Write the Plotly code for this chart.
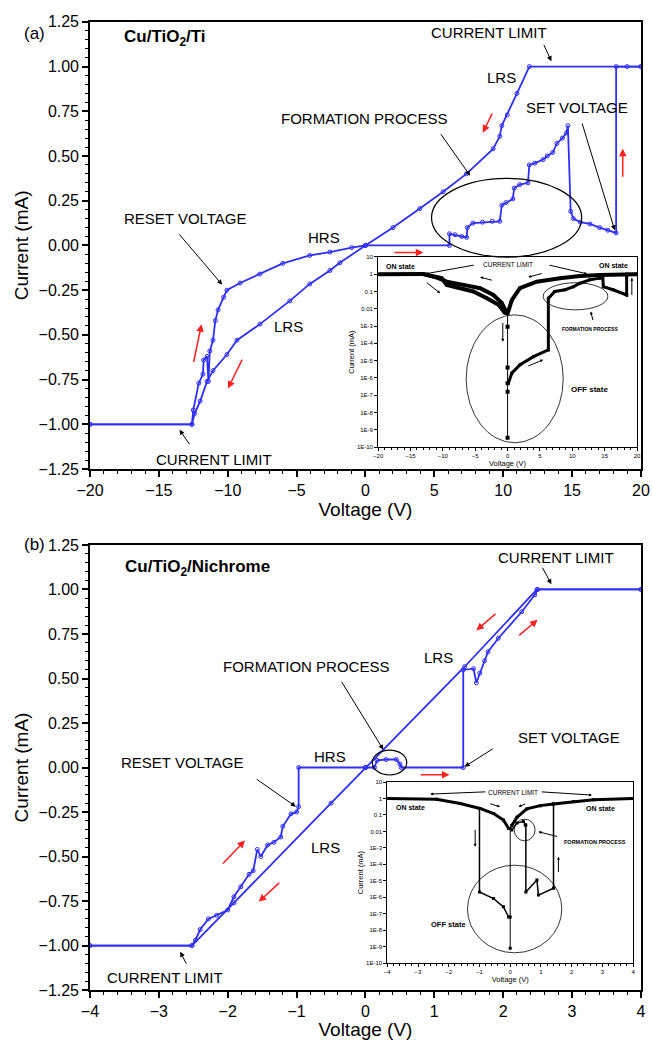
import plotly.graph_objects as go

FONT = "Arial, Liberation Sans, sans-serif"
BLUE = "#2e2eff"
RED = "#ff2020"

# ---------------- Panel (a): Cu/TiO2/Ti (linear I-V) ----------------
a_fwd_v = [0, 6.1, 6.1, 6.5, 7.0, 7.35, 7.4, 7.8, 8.5, 9.2, 9.75, 9.9, 10.2, 10.7, 10.8, 11.2, 11.8,
           11.9, 12.3, 12.9, 13.2, 13.6, 13.9, 14.3, 14.6, 14.7, 14.9, 15.1, 15.6, 16.3, 17.0, 17.6,
           18.2, 18.2, 19.0, 20.0]
a_fwd_i = [0, 0, 0.065, 0.06, 0.05, 0.045, 0.10, 0.125, 0.13, 0.135, 0.135, 0.225, 0.24, 0.26, 0.32,
           0.34, 0.35, 0.45, 0.46, 0.48, 0.50, 0.52, 0.57, 0.60, 0.63, 0.67, 0.19, 0.15, 0.13, 0.12,
           0.10, 0.085, 0.07, 1.0, 1.0, 1.0]
a_lrs_v = [20, 11.9, 11.0, 10.3, 9.9, 9.75, 9.27, 7.33, 5.64, 3.95, 2.0, 0, -1.86, -2.58, -4.04,
           -5.49, -7.66, -9.33, -10.06, -11.07, -11.5, -12.0, -12.4, -12.6, -20]
a_lrs_i = [1.0, 1.0, 0.85, 0.73, 0.67, 0.61, 0.54, 0.40, 0.30, 0.206, 0.10, 0, -0.097, -0.14, -0.215,
           -0.31, -0.44, -0.53, -0.61, -0.70, -0.76, -0.87, -0.94, -1.0, -1.0]
a_rst_v = [-20, -12.6, -12.5, -12.1, -11.8, -11.75, -11.5, -11.4, -11.3, -11.07, -10.9, -10.7, -10.3,
           -10.06, -9.1, -7.66, -6.0, -4.04, -2.58, -1.0, 0]
a_rst_i = [-1.0, -1.0, -0.92, -0.77, -0.72, -0.64, -0.62, -0.76, -0.59, -0.53, -0.42, -0.36, -0.29,
           -0.25, -0.21, -0.16, -0.10, -0.056, -0.037, -0.012, 0]

# Inset (a): |I| on log scale
ia_on_up_v = [-20, -13.0, -10.7, -9.4, -6.8, -4.25, -2.2, -0.9, -0.23]
ia_on_up_i = [1.0, 1.04, 0.59, 0.37, 0.24, 0.155, 0.063, 0.022, 0.0069]
ia_on_lo_v = [-13.0, -10.2, -9.4, -7.85, -5.3, -3.2, -1.4, -0.4]
ia_on_lo_i = [1.0, 0.59, 0.24, 0.18, 0.10, 0.041, 0.017, 0.0056]
ia_on_rt_v = [0.1, 0.65, 1.9, 4.5, 8.1, 11.2, 14.3, 20]
ia_on_rt_i = [0.0069, 0.032, 0.155, 0.37, 0.59, 0.79, 0.91, 1.0]
ia_ctr_v = [0, 0, 0, 0, 0, 0]
ia_ctr_i = [0.0058, 9.3e-4, 4e-6, 5e-7, 1.6e-7, 3.5e-10]
ia_off_v = [0.12, 0.65, 1.93, 4.0, 6.3, 6.3, 7.3, 8.9, 10.2, 11.2, 12.7, 14.3, 14.7, 14.8, 16.3, 18.4,
            18.4, 20]
ia_off_i = [5e-7, 1.9e-6, 5.8e-6, 1.7e-5, 4.2e-5, 0.04, 0.10, 0.126, 0.19, 0.30, 0.47, 0.59, 0.72,
            0.19, 0.126, 0.063, 1.0, 1.0]

# ---------------- Panel (b): Cu/TiO2/Nichrome ----------------
b_fwd_v = [0, 0.13, 0.17, 0.3, 0.45, 0.5, 0.52, 1.42, 1.42, 1.57, 1.61, 1.66, 1.73, 1.78, 1.93, 2.27,
           2.46, 2.5, 4.0]
b_fwd_i = [0, 0.0, 0.04, 0.045, 0.045, 0.02, 0.0, 0.0, 0.548, 0.555, 0.476, 0.53, 0.60, 0.65, 0.726,
           0.875, 0.97, 1.0, 1.0]
b_lrs_v = [4, 2.49, 1.44, 0, -0.5, -1.91, -2.52, -4]
b_lrs_i = [1.0, 1.0, 0.566, 0, -0.2, -0.76, -1.0, -1.0]
b_rst_v = [-4, -2.52, -2.47, -2.4, -2.28, -2.16, -2.0, -1.91, -1.81, -1.69, -1.63, -1.57, -1.52, -1.42,
           -1.33, -1.23, -1.2, -1.08, -1.0, -0.97, -0.97, 0]
b_rst_i = [-1, -1, -0.97, -0.91, -0.85, -0.83, -0.80, -0.726, -0.67, -0.60, -0.58, -0.46, -0.50,
           -0.435, -0.42, -0.39, -0.33, -0.26, -0.25, -0.22, 0, 0]

# Inset (b)
ib_on_lf_v = [-4, -2.4, -1.63, -0.98, -0.54, -0.22, -0.05]
ib_on_lf_i = [1.0, 0.91, 0.5, 0.25, 0.123, 0.049, 0.015]
ib_rst_v = [-1.0, -1.0, -0.54, -0.22, -0.05]
ib_rst_i = [0.25, 2.1e-6, 8.3e-7, 2.6e-7, 6.3e-8]
ib_ctr_v = [0, 0, 0]
ib_ctr_i = [0.015, 6.3e-8, 7.9e-10]
ib_on_rt_v = [0.05, 0.22, 0.54, 0.98, 1.41, 2.06, 2.71, 4.0]
ib_on_rt_i = [0.023, 0.072, 0.234, 0.37, 0.47, 0.65, 0.85, 1.0]
ib_frm_v = [0.05, 0.22, 0.43, 0.49, 0.51, 0.51, 0.87, 0.92, 1.41, 1.41]
ib_frm_i = [0.0123, 0.032, 0.04, 0.025, 0.025, 2.1e-6, 1.1e-5, 1.35e-6, 3.5e-6, 0.47]

log_tickvals = [10, 1, 0.1, 0.01, 1e-3, 1e-4, 1e-5, 1e-6, 1e-7, 1e-8, 1e-9, 1e-10]
log_ticktext = ["10", "1", "0.1", "0.01", "1E-3", "1E-4", "1E-5", "1E-6", "1E-7", "1E-8", "1E-9", "1E-10"]

fig = go.Figure()


def main_trace(x, y, xa, ya):
    fig.add_trace(go.Scatter(
        x=x, y=y, xaxis=xa, yaxis=ya, mode="lines+markers",
        line=dict(color=BLUE, width=1.8),
        marker=dict(symbol="circle-open", size=4, color=BLUE, line=dict(width=1, color=BLUE)),
        showlegend=False, hoverinfo="skip"))


def inset_trace(x, y, xa, ya, width=3.5, msize=3):
    fig.add_trace(go.Scatter(
        x=x, y=y, xaxis=xa, yaxis=ya, mode="lines+markers",
        line=dict(color="black", width=width),
        marker=dict(symbol="square", size=msize, color="black"),
        showlegend=False, hoverinfo="skip"))


main_trace(a_fwd_v, a_fwd_i, "x", "y")
main_trace(a_lrs_v, a_lrs_i, "x", "y")
main_trace(a_rst_v, a_rst_i, "x", "y")
main_trace(b_fwd_v, b_fwd_i, "x2", "y2")
main_trace(b_lrs_v, b_lrs_i, "x2", "y2")
main_trace(b_rst_v, b_rst_i, "x2", "y2")

inset_trace(ia_on_up_v, ia_on_up_i, "x3", "y3", 4)
inset_trace(ia_on_lo_v, ia_on_lo_i, "x3", "y3", 4)
inset_trace(ia_on_rt_v, ia_on_rt_i, "x3", "y3", 4)
inset_trace(ia_ctr_v, ia_ctr_i, "x3", "y3", 1, 4)
inset_trace(ia_off_v, ia_off_i, "x3", "y3", 3)

inset_trace(ib_on_lf_v, ib_on_lf_i, "x4", "y4", 3)
inset_trace(ib_rst_v, ib_rst_i, "x4", "y4", 1.5)
inset_trace(ib_ctr_v, ib_ctr_i, "x4", "y4", 1, 3)
inset_trace(ib_on_rt_v, ib_on_rt_i, "x4", "y4", 3)
inset_trace(ib_frm_v, ib_frm_i, "x4", "y4", 1.5)

ann = []


def txt(x, y, s, xr, yr, size=15, **kw):
    d = dict(x=x, y=y, xref=xr, yref=yr, text=s, showarrow=False,
             font=dict(family=FONT, size=size, color="black"))
    d.update(kw)
    ann.append(d)


def arr(x0, y0, x1, y1, xr, yr, color="black", width=1.0, head=2, size=1.0):
    ann.append(dict(x=x1, y=y1, ax=x0, ay=y0, xref=xr, yref=yr, axref=xr, ayref=yr, text="",
                    showarrow=True, arrowhead=head, arrowsize=size, arrowwidth=width,
                    arrowcolor=color))


# panel (a) texts
txt(8.96, 1.188, "CURRENT LIMIT", "x", "y")
txt(9.9, 0.94, "LRS", "x", "y")
txt(15.34, 0.77, "SET VOLTAGE", "x", "y")
txt(-0.12, 0.71, "FORMATION PROCESS", "x", "y")
txt(-3.0, 0.045, "HRS", "x", "y")
txt(-13.1, 0.15, "RESET VOLTAGE", "x", "y")
txt(-5.56, -0.454, "LRS", "x", "y")
txt(-11.0, -1.194, "CURRENT LIMIT", "x", "y")
txt(-17.7, 1.16, "<b>Cu/TiO<sub>2</sub>/Ti</b>", "x", "y", size=17, xanchor="left")
arr(12.9, 1.13, 13.5, 1.03, "x", "y")
arr(15.7, 0.69, 18.1, 0.085, "x", "y")
arr(5.4, 0.63, 7.6, 0.39, "x", "y")
arr(-13.6, 0.07, -10.4, -0.22, "x", "y")
arr(-12.7, -1.12, -13.5, -1.03, "x", "y")
arr(9.25, 0.745, 8.52, 0.63, "x", "y", RED, 1.5)
arr(18.68, 0.375, 18.68, 0.54, "x", "y", RED, 1.5)
arr(2.0, -0.04, 4.2, -0.04, "x", "y", RED, 1.5)
arr(-12.5, -0.66, -11.9, -0.44, "x", "y", RED, 1.5)
arr(-8.9, -0.63, -9.98, -0.80, "x", "y", RED, 1.5)

# panel (b) texts
txt(2.76, 1.177, "CURRENT LIMIT", "x2", "y2")
txt(1.06, 0.62, "LRS", "x2", "y2")
txt(-0.87, 0.565, "FORMATION PROCESS", "x2", "y2")
txt(2.95, 0.166, "SET VOLTAGE", "x2", "y2")
txt(-0.52, 0.06, "HRS", "x2", "y2")
txt(-2.65, 0.03, "RESET VOLTAGE", "x2", "y2")
txt(-0.58, -0.45, "LRS", "x2", "y2")
txt(-2.91, -1.18, "CURRENT LIMIT", "x2", "y2")
txt(-3.52, 1.12, "<b>Cu/TiO<sub>2</sub>/Nichrome</b>", "x2", "y2", size=17, xanchor="left")
arr(2.56, 1.13, 2.7, 1.03, "x2", "y2")
arr(-0.36, 0.49, 0.26, 0.1, "x2", "y2")
arr(1.87, 0.11, 1.44, 0.005, "x2", "y2")
arr(-1.6, -0.06, -1.01, -0.22, "x2", "y2")
arr(-2.59, -1.11, -2.69, -1.035, "x2", "y2")
arr(1.91, 0.87, 1.61, 0.77, "x2", "y2", RED, 1.5)
arr(2.21, 0.735, 2.5, 0.83, "x2", "y2", RED, 1.5)
arr(0.78, -0.04, 1.22, -0.04, "x2", "y2", RED, 1.5)
arr(-2.09, -0.548, -1.75, -0.41, "x2", "y2", RED, 1.5)
arr(-1.23, -0.64, -1.55, -0.754, "x2", "y2", RED, 1.5)

# inset (a) texts (y in log10 units)
txt(-16.5, 0.42, "<b>ON state</b>", "x3", "y3", size=7)
txt(16.3, 0.48, "<b>ON state</b>", "x3", "y3", size=7)
txt(0, 0.54, "CURRENT LIMIT", "x3", "y3", size=6.5)
txt(12.7, -3.16, "<b>FORMATION PROCESS</b>", "x3", "y3", size=5)
txt(12.7, -6.69, "<b>OFF state</b>", "x3", "y3", size=8)
arr(-5.0, 0.54, -12.7, 0.02, "x3", "y3", head=2, size=0.6)
arr(6.25, 0.54, 12.3, 0.02, "x3", "y3", head=2, size=0.6)
arr(-12.7, -0.43, -10.4, -1.1, "x3", "y3", head=2, size=0.6)
arr(-2.2, -0.37, -4.25, -0.17, "x3", "y3", head=2, size=0.6)
arr(5.5, 0.06, 3.2, -0.17, "x3", "y3", head=2, size=0.6)
arr(19.2, -1.29, 19.2, -0.2, "x3", "y3", head=2, size=0.6)
arr(-0.74, -2.74, -0.74, -3.9, "x3", "y3", head=2, size=0.6)
arr(2.96, -5.34, 5.5, -4.95, "x3", "y3", head=2, size=0.6)
arr(13.25, -2.74, 12.85, -2.16, "x3", "y3", head=2, size=0.6)

# inset (b) texts
txt(-3.25, -0.52, "<b>ON state</b>", "x4", "y4", size=7)
txt(2.93, -0.58, "<b>ON state</b>", "x4", "y4", size=7)
txt(0.1, 0.39, "CURRENT LIMIT", "x4", "y4", size=6.5)
txt(2.75, -2.65, "<b>FORMATION PROCESS</b>", "x4", "y4", size=5.5)
txt(-2.0, -7.63, "<b>OFF state</b>", "x4", "y4", size=7.5)
arr(-0.76, 0.41, -2.6, 0.27, "x4", "y4", head=2, size=0.6)
arr(0.98, 0.41, 2.66, 0.21, "x4", "y4", head=2, size=0.6)
arr(-0.7, -0.29, -0.33, -0.5, "x4", "y4", head=2, size=0.6)
arr(0.54, -0.29, 0.27, -0.5, "x4", "y4", head=2, size=0.6)
arr(-1.14, -1.81, -1.14, -2.93, "x4", "y4", head=2, size=0.6)
arr(1.57, -4.55, 1.57, -3.54, "x4", "y4", head=2, size=0.6)
arr(1.57, -2.33, 0.92, -2.02, "x4", "y4", head=2, size=0.6)

# panel labels
ann.append(dict(x=0.034, y=0.979, xref="paper", yref="paper", text="(a)", showarrow=False,
                font=dict(family=FONT, size=17, color="black")))
ann.append(dict(x=0.034, y=0.476, xref="paper", yref="paper", text="(b)", showarrow=False,
                font=dict(family=FONT, size=17, color="black")))

shapes = [
    dict(type="circle", xref="x", yref="y", x0=4.8, x1=15.7, y0=-0.065, y1=0.375,
         line=dict(color="black", width=1.2)),
    dict(type="circle", xref="x2", yref="y2", x0=0.10, x1=0.60, y0=-0.042, y1=0.098,
         line=dict(color="black", width=1.2)),
    dict(type="circle", xref="x3", yref="y3", x0=-6.4, x1=8.6, y0=1.8e-10, y1=4.5e-3,
         line=dict(color="black", width=0.8)),
    dict(type="circle", xref="x3", yref="y3", x0=5.5, x1=15.5, y0=0.0087, y1=0.32,
         line=dict(color="black", width=0.8)),
    dict(type="circle", xref="x4", yref="y4", x0=-1.39, x1=1.68, y0=4.2e-10, y1=8.9e-5,
         line=dict(color="black", width=0.8)),
    dict(type="circle", xref="x4", yref="y4", x0=0.13, x1=0.81, y0=0.0027, y1=0.056,
         line=dict(color="black", width=0.8)),
]

main_axis = dict(showline=True, linecolor="black", linewidth=1.5, mirror=True, ticks="outside",
                 ticklen=6, tickwidth=1.5, tickcolor="black", showgrid=False, zeroline=False,
                 automargin=False,
                 tickfont=dict(family=FONT, size=16, color="black"),
                 minor=dict(ticks="outside", ticklen=3, tickwidth=1.2, tickcolor="black",
                            showgrid=False))
inset_axis = dict(showline=True, linecolor="black", linewidth=1, mirror=True, ticks="outside",
                  ticklen=3, tickwidth=1, tickcolor="black", showgrid=False, zeroline=False,
                  automargin=False,
                  tickfont=dict(family=FONT, size=6, color="black"))

fig.update_layout(
    width=652, height=1040, margin=dict(l=0, r=0, t=0, b=0, autoexpand=False),
    paper_bgcolor="white", plot_bgcolor="rgba(0,0,0,0)", showlegend=False,
    xaxis=dict(main_axis, domain=[0.138, 0.983], range=[-20, 20], tick0=-20, dtick=5,
               anchor="y", title=dict(text="Voltage (V)", standoff=2,
                                      font=dict(family=FONT, size=19, color="black"))),
    yaxis=dict(main_axis, domain=[0.549, 0.979], range=[-1.25, 1.25], tick0=0, dtick=0.25,
               tickformat=".2f", anchor="x",
               title=dict(text="Current (mA)", standoff=5,
                          font=dict(family=FONT, size=19, color="black"))),
    xaxis2=dict(main_axis, domain=[0.138, 0.983], range=[-4, 4], tick0=-4, dtick=1,
                anchor="y2", title=dict(text="Voltage (V)", standoff=2,
                                        font=dict(family=FONT, size=19, color="black"))),
    yaxis2=dict(main_axis, domain=[0.048, 0.476], range=[-1.25, 1.25], tick0=0, dtick=0.25,
                tickformat=".2f", anchor="x2",
                title=dict(text="Current (mA)", standoff=5,
                           font=dict(family=FONT, size=19, color="black"))),
    xaxis3=dict(inset_axis, domain=[0.580, 0.977], range=[-20, 20], tick0=-20, dtick=5,
                anchor="y3",
                minor=dict(ticks="outside", ticklen=2, tickcolor="black", showgrid=False),
                title=dict(text="Voltage (V)", standoff=1,
                           font=dict(family=FONT, size=7.5, color="black"))),
    yaxis3=dict(inset_axis, domain=[0.570, 0.753], type="log", range=[-10, 1],
                tickvals=log_tickvals, ticktext=log_ticktext, anchor="x3",
                title=dict(text="Current (mA)", standoff=1,
                           font=dict(family=FONT, size=7.5, color="black"))),
    xaxis4=dict(inset_axis, domain=[0.594, 0.971], range=[-4, 4], tick0=-4, dtick=1,
                anchor="y4",
                minor=dict(ticks="outside", ticklen=2, tickcolor="black", showgrid=False),
                title=dict(text="Voltage (V)", standoff=1,
                           font=dict(family=FONT, size=7.5, color="black"))),
    yaxis4=dict(inset_axis, domain=[0.074, 0.248], type="log", range=[-10, 1],
                tickvals=log_tickvals, ticktext=log_ticktext, anchor="x4",
                title=dict(text="Current (mA)", standoff=1,
                           font=dict(family=FONT, size=7.5, color="black"))),
    annotations=ann, shapes=shapes,
)

fig.write_html("out.html", config={"displayModeBar": False},
               post_script="document.body.style.margin='0';")
